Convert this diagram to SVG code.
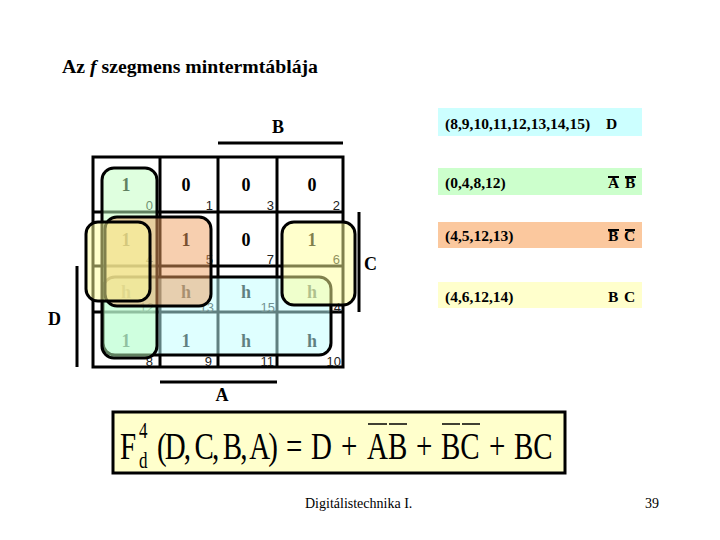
<svg xmlns="http://www.w3.org/2000/svg" width="720" height="540" viewBox="0 0 720 540">
<style>
.t{font-family:"Liberation Serif",serif;font-weight:bold;fill:#000}
.v{font-family:"Liberation Serif",serif;font-weight:bold;font-size:18px;text-anchor:middle;fill:#000}
.n{font-family:"Liberation Sans",sans-serif;font-size:13px;text-anchor:end;fill:#222}
.grid{fill:none;stroke:#000;stroke-width:3}
.bar{stroke:#000;stroke-width:3}
.loop{stroke:#000;stroke-width:3;fill-opacity:0.5}
.bx{font-family:"Liberation Serif",serif;font-weight:bold;font-size:15.5px;fill:#000}
.ov{stroke:#000;stroke-width:2}
.f{font-family:"Liberation Serif",serif;font-size:29px;fill:#000}
.fs{font-family:"Liberation Serif",serif;font-size:17px;fill:#000}
.fo{stroke:#000;stroke-width:1.5}
.ft{font-family:"Liberation Serif",serif;font-size:14px;fill:#000}
</style>
<rect width="720" height="540" fill="#fff"/>
<g id="title">
<text class="t" x="62" y="73" font-size="18" textLength="256" lengthAdjust="spacingAndGlyphs">Az <tspan font-style="italic">f</tspan> szegmens mintermtáblája</text>
</g>
<g id="grid">
<rect class="grid" x="93" y="157" width="250" height="210"/>
<line class="grid" x1="160" y1="157" x2="160" y2="367"/>
<line class="grid" x1="218" y1="157" x2="218" y2="367"/>
<line class="grid" x1="277" y1="157" x2="277" y2="367"/>
<line class="grid" x1="93" y1="212" x2="343" y2="212"/>
<line class="grid" x1="93" y1="266" x2="343" y2="266"/>
<line class="grid" x1="93" y1="312" x2="343" y2="312"/>
</g>
<g id="cells">
<g id="c0"><text class="v" x="126" y="191">1</text><text class="n" x="153" y="210">0</text></g>
<g id="c1"><text class="v" x="186" y="191">0</text><text class="n" x="213" y="210">1</text></g>
<g id="c3"><text class="v" x="246" y="191">0</text><text class="n" x="274" y="210">3</text></g>
<g id="c2"><text class="v" x="312" y="191">0</text><text class="n" x="340" y="210">2</text></g>
<g id="c4"><text class="v" x="126" y="246">1</text><text class="n" x="153" y="264">4</text></g>
<g id="c5"><text class="v" x="186" y="246">1</text><text class="n" x="213" y="264">5</text></g>
<g id="c7"><text class="v" x="246" y="246">0</text><text class="n" x="274" y="264">7</text></g>
<g id="c6"><text class="v" x="312" y="246">1</text><text class="n" x="340" y="264">6</text></g>
<g id="c12"><text class="v" x="126" y="298">h</text><text class="n" x="154" y="312">12</text></g>
<g id="c13"><text class="v" x="186" y="298">h</text><text class="n" x="214" y="312">13</text></g>
<g id="c15"><text class="v" x="246" y="298">h</text><text class="n" x="275" y="312">15</text></g>
<g id="c14"><text class="v" x="312" y="298">h</text><text class="n" x="341" y="312">14</text></g>
<g id="c8"><text class="v" x="126" y="347">1</text><text class="n" x="153" y="366">8</text></g>
<g id="c9"><text class="v" x="186" y="347">1</text><text class="n" x="212" y="366">9</text></g>
<g id="c11"><text class="v" x="246" y="347">h</text><text class="n" x="274" y="366">11</text></g>
<g id="c10"><text class="v" x="312" y="347">h</text><text class="n" x="341" y="366">10</text></g>
</g>
<g id="loops">
<rect id="loopD" class="loop" x="103" y="277" width="228" height="78" rx="12" fill="#c0ffff"/>
<rect id="loopAB" class="loop" x="102" y="168" width="55" height="190" rx="12" fill="#c0ffc0"/>
<rect id="loopBnCn" class="loop" x="105" y="217" width="106" height="89" rx="12" fill="#f0a060"/>
<rect id="loopBCa" class="loop" x="86" y="222" width="64" height="79" rx="12" fill="#ffff99"/>
<rect id="loopBCb" class="loop" x="282" y="222" width="73" height="83" rx="12" fill="#ffff99"/>
</g>
<g id="bars">
<line class="bar" x1="218" y1="143" x2="343" y2="143"/>
<text class="t" x="278" y="133" font-size="18" text-anchor="middle">B</text>
<line class="bar" x1="359" y1="212" x2="359" y2="312"/>
<text class="t" x="364" y="270" font-size="18">C</text>
<line class="bar" x1="77" y1="266" x2="77" y2="367"/>
<text class="t" x="48" y="325" font-size="18">D</text>
<line class="bar" x1="160" y1="382" x2="277" y2="382"/>
<text class="t" x="222" y="401" font-size="18" text-anchor="middle">A</text>
</g>
<g id="boxD">
<rect x="438" y="108" width="204" height="28" fill="#ccffff"/>
<text class="bx" x="445" y="129">(8,9,10,11,12,13,14,15)</text>
<text class="bx" x="606" y="129">D</text>
</g>
<g id="boxAB">
<rect x="438" y="168" width="204" height="27" fill="#ccffcc"/>
<text class="bx" x="445" y="188">(0,4,8,12)</text>
<text class="bx" x="608" y="188">A</text><text class="bx" x="625" y="188">B</text>
<line class="ov" x1="608" y1="177" x2="619" y2="177"/><line class="ov" x1="625" y1="177" x2="636" y2="177"/>
</g>
<g id="boxBnCn">
<rect x="438" y="222" width="204" height="26" fill="#fbc89e"/>
<text class="bx" x="445" y="241">(4,5,12,13)</text>
<text class="bx" x="608" y="241">B</text><text class="bx" x="624" y="241">C</text>
<line class="ov" x1="608" y1="230" x2="619" y2="230"/><line class="ov" x1="625" y1="230" x2="635" y2="230"/>
</g>
<g id="boxBC">
<rect x="438" y="282" width="204" height="26" fill="#ffffcc"/>
<text class="bx" x="445" y="302">(4,6,12,14)</text>
<text class="bx" x="608" y="302">B</text><text class="bx" x="624" y="302">C</text>
</g>
<g id="formula">
<rect x="113" y="412" width="452" height="61" fill="#ffffcc" stroke="#000" stroke-width="3"/>
<g transform="translate(0,459) scale(1,1.3) translate(0,-459)">
<text class="f" x="120" y="459">F</text>
<text class="fs" x="139" y="443">4</text>
<text class="fs" x="139" y="466">d</text>
<text class="f" x="157" y="459" textLength="121" lengthAdjust="spacing">(D, C, B, A)</text>
<text class="f" x="286" y="459">=</text>
<text class="f" x="311" y="459">D</text>
<text class="f" x="341" y="459">+</text>
<text class="f" x="367" y="459">AB</text>
<text class="f" x="416" y="459">+</text>
<text class="f" x="441" y="459">BC</text>
<text class="f" x="489" y="459">+</text>
<text class="f" x="514" y="459">BC</text>
</g>
<line class="fo" x1="368" y1="424" x2="387" y2="424"/>
<line class="fo" x1="389" y1="424" x2="407" y2="424"/>
<line class="fo" x1="442" y1="424" x2="460" y2="424"/>
<line class="fo" x1="462" y1="424" x2="480" y2="424"/>
</g>
<g id="footer">
<text class="ft" x="305" y="508">Digitálistechnika I.</text>
<text class="ft" x="645" y="508">39</text>
</g>
</svg>
